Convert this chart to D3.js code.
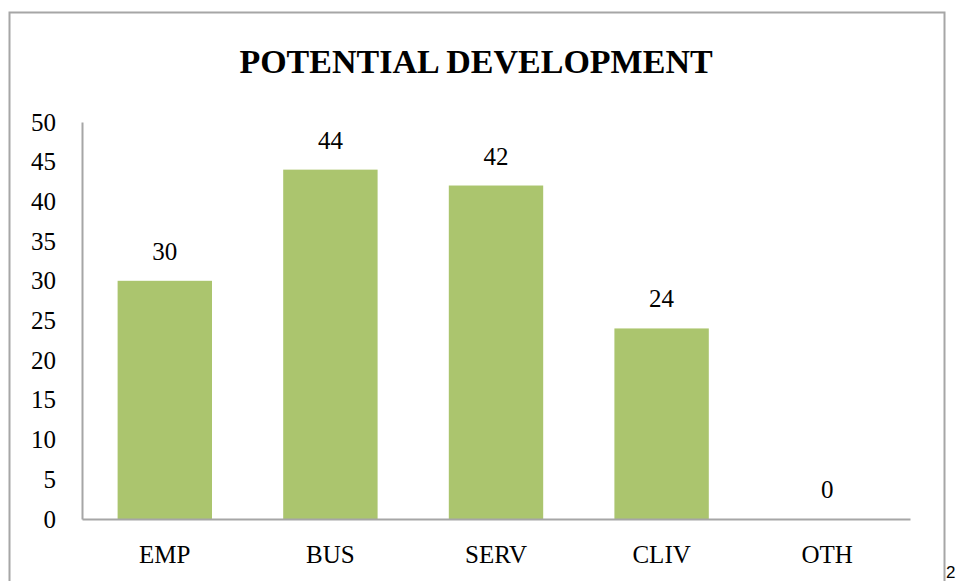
<!DOCTYPE html>
<html>
<head>
<meta charset="utf-8">
<script src="https://cdn.jsdelivr.net/npm/d3@7"></script>
<style>
  body { margin: 0; background: #fff; }
  svg { display: block; }
</style>
</head>
<body>
<div id="chart"></div>
<script>
const categories = ["EMP", "BUS", "SERV", "CLIV", "OTH"];
const values = [30, 44, 42, 24, 0];
const yTicks = [0, 5, 10, 15, 20, 25, 30, 35, 40, 45, 50];
const title = "POTENTIAL DEVELOPMENT";

const width = 956;
const height = 581;
const margin = { top: 122, right: 46, bottom: 62, left: 82 };
const serif = "'Liberation Serif', 'DejaVu Serif', serif";

const svg = d3.select("#chart").append("svg")
    .attr("width", width)
    .attr("height", height);

// chart border (bottom edge runs off the page)
svg.append("rect")
    .attr("x", 9.5)
    .attr("y", 12.5)
    .attr("width", 935)
    .attr("height", 600)
    .attr("fill", "none")
    .attr("stroke", "#a6a6a6")
    .attr("stroke-width", 2);

svg.append("text")
    .attr("x", 476)
    .attr("y", 73)
    .attr("text-anchor", "middle")
    .attr("font-family", serif)
    .attr("font-weight", "bold")
    .attr("font-size", "34px")
    .attr("fill", "#000")
    .text(title);

const x = d3.scaleBand()
    .domain(categories)
    .range([margin.left, 910])
    .paddingInner(0.43)
    .paddingOuter(0.215);

const y = d3.scaleLinear()
    .domain([0, 50])
    .range([height - margin.bottom, margin.top]);

// bars
svg.selectAll("rect.bar")
    .data(values)
    .join("rect")
    .attr("class", "bar")
    .attr("x", (d, i) => x(categories[i]))
    .attr("y", d => y(d))
    .attr("width", x.bandwidth())
    .attr("height", d => y(0) - y(d))
    .attr("fill", "#abc56e");

// value labels
svg.selectAll("text.val")
    .data(values)
    .join("text")
    .attr("class", "val")
    .attr("x", (d, i) => x(categories[i]) + x.bandwidth() / 2)
    .attr("y", d => y(d) - 21)
    .attr("text-anchor", "middle")
    .attr("font-family", serif)
    .attr("font-size", "25px")
    .attr("fill", "#000")
    .text(d => d);

// y axis
const yAxis = svg.append("g")
    .attr("transform", `translate(${margin.left},0)`)
    .call(d3.axisLeft(y).tickValues(yTicks).tickSize(0).tickPadding(26));
yAxis.select(".domain").attr("stroke", "#a6a6a6").attr("stroke-width", 2);
yAxis.selectAll("text")
    .attr("font-family", serif)
    .attr("font-size", "25px")
    .attr("fill", "#000");

// x axis
const xAxis = svg.append("g")
    .attr("transform", `translate(0,${y(0)})`)
    .call(d3.axisBottom(x).tickSize(0).tickPadding(26));
xAxis.select(".domain").attr("stroke", "#a6a6a6").attr("stroke-width", 2);
xAxis.selectAll("text")
    .attr("font-family", serif)
    .attr("font-size", "25px")
    .attr("fill", "#000");

// stray page number at the edge
svg.append("text")
    .attr("x", 946)
    .attr("y", 578)
    .attr("font-family", "'Liberation Sans', Arial, sans-serif")
    .attr("font-size", "17px")
    .attr("fill", "#000")
    .text("2");
</script>
</body>
</html>
